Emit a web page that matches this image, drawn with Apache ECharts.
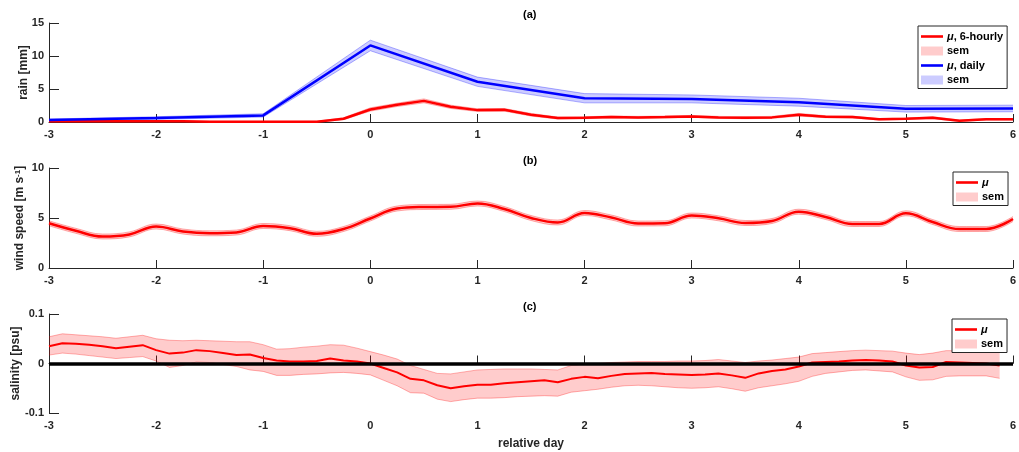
<!DOCTYPE html>
<html>
<head>
<meta charset="utf-8">
<script src="https://cdn.jsdelivr.net/npm/echarts@6/dist/echarts.min.js"></script>
<style>
html, body { margin: 0; padding: 0; background: #fff; }
#chart { width: 1019px; height: 452px; }
</style>
</head>
<body>
<div id="chart"></div>
<script>
// 6-hourly grid (panels a, b)
var days = [-3, -2.75, -2.5, -2.25, -2, -1.75, -1.5, -1.25, -1, -0.75, -0.5, -0.25,
  0, 0.25, 0.5, 0.75, 1, 1.25, 1.5, 1.75, 2, 2.25, 2.5, 2.75, 3, 3.25, 3.5, 3.75,
  4, 4.25, 4.5, 4.75, 5, 5.25, 5.5, 5.75, 6];
// 3-hourly grid (panel c)
var daysFine = [-3, -2.875, -2.75, -2.625, -2.5, -2.375, -2.25, -2.125, -2, -1.875, -1.75, -1.625,
  -1.5, -1.375, -1.25, -1.125, -1, -0.875, -0.75, -0.625, -0.5, -0.375, -0.25, -0.125,
  0, 0.125, 0.25, 0.375, 0.5, 0.625, 0.75, 0.875, 1, 1.125, 1.25, 1.375, 1.5, 1.625, 1.75, 1.875,
  2, 2.125, 2.25, 2.375, 2.5, 2.625, 2.75, 2.875, 3, 3.125, 3.25, 3.375, 3.5, 3.625, 3.75, 3.875,
  4, 4.125, 4.25, 4.375, 4.5, 4.625, 4.75, 4.875, 5, 5.125, 5.25, 5.375, 5.5, 5.625, 5.75, 5.875, 6];

// (a) rain [mm]
var rainMean = [0.1, 0.1, 0.1, 0.1, 0.1, 0.1, 0.05, 0.05, 0.05, 0.05, 0.05, 0.5,
  1.9, 2.6, 3.2, 2.3, 1.8, 1.85, 1.1, 0.6, 0.65, 0.75, 0.7, 0.75, 0.85, 0.7, 0.65, 0.7,
  1.1, 0.8, 0.75, 0.4, 0.5, 0.65, 0.2, 0.4, 0.4];
var rainSem = [0.08, 0.08, 0.08, 0.08, 0.08, 0.08, 0.05, 0.05, 0.05, 0.05, 0.05, 0.15,
  0.25, 0.25, 0.3, 0.25, 0.2, 0.2, 0.2, 0.15, 0.15, 0.15, 0.15, 0.15, 0.15, 0.15, 0.15, 0.15,
  0.2, 0.15, 0.15, 0.1, 0.1, 0.15, 0.1, 0.1, 0.1];
var dailyDays = [-3, -2, -1, 0, 1, 2, 3, 4, 5, 6];
var dailyMean = [0.3, 0.6, 1.0, 11.6, 6.1, 3.6, 3.5, 3.0, 2.0, 2.05];
var dailySem = [0.15, 0.2, 0.25, 0.8, 0.7, 0.7, 0.6, 0.6, 0.5, 0.5];

// (b) wind speed [m/s]
var windMean = [4.47, 3.72, 3.15, 3.36, 4.15, 3.65, 3.47, 3.55, 4.2, 3.98, 3.42, 3.9,
  4.95, 5.95, 6.1, 6.12, 6.45, 5.9, 5.0, 4.55, 5.5, 5.05, 4.45, 4.47, 5.25, 4.97, 4.5, 4.7,
  5.63, 5.1, 4.4, 4.4, 5.47, 4.6, 3.9, 3.9, 4.9];
var windSem = [0.25, 0.25, 0.25, 0.25, 0.25, 0.25, 0.25, 0.25, 0.25, 0.25, 0.25, 0.25,
  0.25, 0.25, 0.25, 0.25, 0.25, 0.25, 0.25, 0.25, 0.25, 0.25, 0.25, 0.25, 0.25, 0.25, 0.25, 0.25,
  0.25, 0.25, 0.25, 0.25, 0.25, 0.25, 0.25, 0.25, 0.25];

// (c) salinity [psu]
var salMean = [0.035, 0.041, 0.040, 0.038, 0.035, 0.031, 0.034, 0.037, 0.027, 0.020, 0.022, 0.027,
  0.025, 0.021, 0.017, 0.018, 0.011, 0.006, 0.004, 0.004, 0.005, 0.010, 0.006, 0.004,
  0.000, -0.009, -0.018, -0.031, -0.034, -0.044, -0.050, -0.046, -0.043, -0.043, -0.040, -0.038,
  -0.036, -0.034, -0.038, -0.031, -0.027, -0.030, -0.025, -0.021, -0.020, -0.019, -0.021, -0.022,
  -0.023, -0.022, -0.020, -0.024, -0.029, -0.020, -0.015, -0.012, -0.006, 0.002, 0.003, 0.004,
  0.006, 0.007, 0.006, 0.004, -0.004, -0.008, -0.007, 0.003, 0.002, 0.001, 0.000, -0.004, null];
var salUpper = [0.054, 0.060, 0.058, 0.056, 0.054, 0.051, 0.054, 0.057, 0.050, 0.047, 0.046, 0.047,
  0.046, 0.045, 0.044, 0.044, 0.038, 0.029, 0.030, 0.033, 0.035, 0.038, 0.037, 0.031,
  0.024, 0.017, 0.009, -0.004, -0.012, -0.020, -0.021, -0.017, -0.013, -0.012, -0.011, -0.011,
  -0.011, -0.012, -0.013, -0.004, -0.001, 0.000, 0.002, 0.003, 0.004, 0.004, 0.004, 0.005,
  0.005, 0.006, 0.008, 0.005, 0.002, 0.005, 0.007, 0.010, 0.013, 0.020, 0.022, 0.024,
  0.026, 0.027, 0.026, 0.025, 0.021, 0.018, 0.021, 0.026, 0.026, 0.025, 0.024, 0.023, null];
var salLower = [0.017, 0.021, 0.019, 0.016, 0.013, 0.010, 0.012, 0.014, 0.005, -0.008, -0.004, 0.003,
  0.002, -0.002, -0.006, -0.013, -0.016, -0.024, -0.024, -0.022, -0.021, -0.019, -0.018, -0.020,
  -0.023, -0.034, -0.045, -0.059, -0.060, -0.072, -0.077, -0.073, -0.070, -0.070, -0.069, -0.067,
  -0.066, -0.065, -0.066, -0.058, -0.055, -0.052, -0.048, -0.045, -0.044, -0.045, -0.047, -0.049,
  -0.050, -0.049, -0.047, -0.051, -0.056, -0.049, -0.045, -0.041, -0.036, -0.026, -0.020, -0.017,
  -0.014, -0.013, -0.015, -0.017, -0.027, -0.034, -0.033, -0.026, -0.025, -0.025, -0.025, -0.030, null];

var yTicksA = [0, 15, 5];
var yTicksB = [0, 10, 5];
var yTicksC = [-0.1, 0.1, 0.1];

var FONT = '"Liberation Sans", Arial, sans-serif';
var AXC = '#262626';
var LINE_ICON = 'path://M0,0H22V2.6H0Z';

var chart = echarts.init(document.getElementById('chart'));

function lowOf(mean, sem) {
  return mean.map(function (v, i) { return v == null ? null : +(v - sem[i]).toFixed(4); });
}
function widthOf(mean, sem) {
  return mean.map(function (v, i) { return v == null ? null : +(2 * sem[i]).toFixed(4); });
}
function diffOf(up, lo) {
  return up.map(function (v, i) { return v == null ? null : +(v - lo[i]).toFixed(4); });
}

function isWhole(idx, val) { return Number(val) % 1 === 0; }

function xAxis(grid, cats, withName) {
  var ax = {
    type: 'category', gridIndex: grid, boundaryGap: false,
    data: cats.map(String),
    axisLine: { lineStyle: { color: AXC, width: 1 } },
    axisTick: { inside: true, length: 8, interval: isWhole, lineStyle: { color: AXC } },
    axisLabel: { interval: isWhole, margin: 7, color: AXC, fontSize: 11, fontWeight: 'bold', fontFamily: FONT },
    splitLine: { show: false }
  };
  if (withName) {
    ax.name = 'relative day';
    ax.nameLocation = 'middle';
    ax.nameGap = 25;
    ax.nameMoveOverlap = false;
    ax.nameTextStyle = { color: AXC, fontSize: 12, fontWeight: 'bold', fontFamily: FONT };
  }
  return ax;
}
function yAxis(grid, t, name, gap) {
  return {
    type: 'value', gridIndex: grid, min: t[0], max: t[1], interval: t[2],
    name: name, nameLocation: 'middle', nameRotate: 90, nameGap: gap, nameMoveOverlap: false,
    nameTextStyle: {
      color: AXC, fontSize: 12, fontWeight: 'bold', fontFamily: FONT,
      rich: { sup: { fontSize: 8, fontWeight: 'bold', fontFamily: FONT, color: AXC, verticalAlign: 'top', lineHeight: 10 } }
    },
    axisLine: { show: true, lineStyle: { color: AXC, width: 1 } },
    axisTick: { show: true, inside: true, length: 10, lineStyle: { color: AXC } },
    axisLabel: { margin: 5, color: AXC, fontSize: 11, fontWeight: 'bold', fontFamily: FONT },
    splitLine: { show: false }
  };
}

function band(name, xi, yi, low, width, fill, edge, smooth) {
  var base = {
    type: 'line', xAxisIndex: xi, yAxisIndex: yi, stack: 'st_' + name, stackStrategy: 'all',
    symbol: 'none', smooth: smooth, silent: true, z: 1,
    emphasis: { disabled: true }, lineStyle: { color: edge, width: 1 }
  };
  var s1 = Object.assign({}, base, { name: name + '_lo', data: low });
  var s2 = Object.assign({}, base, {
    name: name, data: width,
    areaStyle: { color: fill, opacity: 1 }
  });
  return [s1, s2];
}
function meanLine(name, xi, yi, data, color, w, smooth) {
  return {
    name: name, type: 'line', xAxisIndex: xi, yAxisIndex: yi, data: data,
    symbol: 'none', smooth: smooth, silent: true, z: 3,
    emphasis: { disabled: true }, lineStyle: { color: color, width: w }
  };
}

var legendLabels = {
  mu6: '{it|μ}, 6-hourly', sem6: 'sem', muD: '{it|μ}, daily', semD: 'sem',
  muW: '{it|μ}', semW: 'sem', muS: '{it|μ}', semS: 'sem'
};
function legend(left, top, items) {
  return {
    orient: 'vertical', left: left, top: top, selectedMode: false,
    backgroundColor: '#fff', borderColor: AXC, borderWidth: 1, borderRadius: 0,
    padding: [5, 4, 3, 3], itemWidth: 22, itemHeight: 9, itemGap: 3.5,
    data: items,
    formatter: function (n) { return legendLabels[n]; },
    textStyle: {
      color: '#000', fontSize: 11, fontWeight: 'bold', fontFamily: FONT, padding: [0, 0, 0, -1],
      rich: { it: { fontStyle: 'italic', fontWeight: 'bold', fontSize: 11, fontFamily: FONT, color: '#000' } }
    }
  };
}
var RED_FILL = 'rgba(255,0,0,0.2)', RED_EDGE = 'rgba(255,0,0,0.3)';
var BLUE_FILL = 'rgba(0,0,255,0.2)', BLUE_EDGE = 'rgba(0,0,255,0.3)';

var series = []
  .concat(band('sem6', 0, 0, lowOf(rainMean, rainSem), widthOf(rainMean, rainSem), RED_FILL, RED_EDGE, false))
  .concat(band('semD', 3, 0, lowOf(dailyMean, dailySem), widthOf(dailyMean, dailySem), BLUE_FILL, BLUE_EDGE, false))
  .concat([meanLine('mu6', 0, 0, rainMean, '#ff0000', 2.5, false), meanLine('muD', 3, 0, dailyMean, '#0000ff', 2.5, false)])
  .concat(band('semW', 1, 1, lowOf(windMean, windSem), widthOf(windMean, windSem), RED_FILL, RED_EDGE, 0.4))
  .concat([meanLine('muW', 1, 1, windMean, '#ff0000', 2.5, 0.4)])
  .concat(band('semS', 2, 2, salLower, diffOf(salUpper, salLower), RED_FILL, RED_EDGE, false));
var salLine = meanLine('muS', 2, 2, salMean, '#ff0000', 2, false);
salLine.markLine = {
  silent: true, symbol: 'none', z: 5, label: { show: false },
  emphasis: { disabled: true },
  lineStyle: { color: '#000', width: 3.5, type: 'solid' },
  data: [{ yAxis: 0 }]
};
series.push(salLine);

function title(txt, y) {
  return {
    type: 'text', left: 531 - 8, top: y,
    style: { text: txt, fill: '#000', font: 'bold 11px ' + FONT }
  };
}

var dailyAxis = {
  type: 'category', gridIndex: 0, boundaryGap: false, show: false,
  data: dailyDays.map(String)
};

var option = {
  animation: false,
  backgroundColor: '#fff',
  grid: [
    { left: 49, right: 6, top: 23, height: 99, outerBoundsMode: 'none' },
    { left: 49, right: 6, top: 168, height: 100, outerBoundsMode: 'none' },
    { left: 49, right: 6, top: 314, height: 99, outerBoundsMode: 'none' }
  ],
  xAxis: [xAxis(0, days), xAxis(1, days), xAxis(2, daysFine, true), dailyAxis],
  yAxis: [
    yAxis(0, yTicksA, 'rain [mm]', 19),
    yAxis(1, yTicksB, 'wind speed [m s{sup|-1}]', 23),
    yAxis(2, yTicksC, 'salinity [psu]', 27)
  ],
  legend: [
    legend(918, 26, [
      { name: 'mu6', icon: LINE_ICON, itemStyle: { color: '#ff0000', borderWidth: 0 } },
      { name: 'sem6', icon: 'rect', itemStyle: { color: '#ffcccc', borderWidth: 0 } },
      { name: 'muD', icon: LINE_ICON, itemStyle: { color: '#0000ff', borderWidth: 0 } },
      { name: 'semD', icon: 'rect', itemStyle: { color: '#ccccff', borderWidth: 0 } }
    ]),
    legend(953, 172, [
      { name: 'muW', icon: LINE_ICON, itemStyle: { color: '#ff0000', borderWidth: 0 } },
      { name: 'semW', icon: 'rect', itemStyle: { color: '#ffcccc', borderWidth: 0 } }
    ]),
    legend(952, 319, [
      { name: 'muS', icon: LINE_ICON, itemStyle: { color: '#ff0000', borderWidth: 0 } },
      { name: 'semS', icon: 'rect', itemStyle: { color: '#ffcccc', borderWidth: 0 } }
    ])
  ],
  graphic: [title('(a)', 9), title('(b)', 155), title('(c)', 301)],
  series: series
};
chart.setOption(option);
</script>
</body>
</html>
